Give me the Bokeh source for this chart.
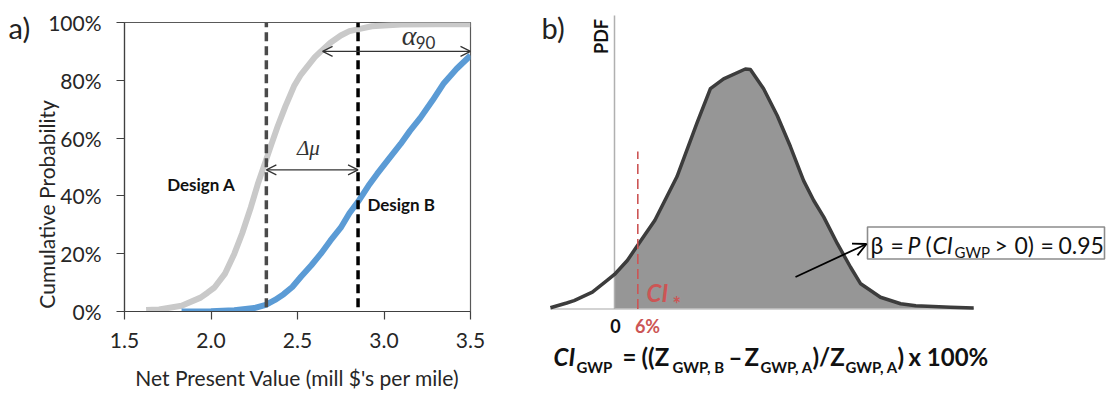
import numpy as np
from bokeh.plotting import figure
from bokeh.models import Range1d, NumeralTickFormatter, FixedTicker, Arrow, OpenHead, Label
from bokeh.layouts import row, column
from bokeh.embed import file_html
from bokeh.resources import INLINE

# ---------------- data: panel a (cumulative probability of NPV) ----------------
npv_design_a = [1.625, 1.70, 1.83, 1.94, 1.98, 2.02, 2.08, 2.135, 2.18, 2.23, 2.27, 2.31,
                2.35, 2.385, 2.43, 2.48, 2.52, 2.56, 2.60, 2.635, 2.69, 2.75, 2.80, 2.86,
                2.93, 3.0, 3.1, 3.3, 3.5]
cdf_design_a = [0.005, 0.007, 0.02, 0.048, 0.065, 0.083, 0.13, 0.20, 0.27, 0.36, 0.44, 0.51,
                0.58, 0.64, 0.71, 0.78, 0.82, 0.85, 0.88, 0.90, 0.93, 0.955, 0.97, 0.978,
                0.987, 0.99, 0.993, 0.994, 0.994]
npv_design_b = [1.83, 2.0, 2.135, 2.25, 2.317, 2.37, 2.42, 2.47, 2.52, 2.58, 2.635, 2.69,
                2.75, 2.80, 2.856, 2.91, 2.96, 3.03, 3.096, 3.15, 3.21, 3.28, 3.346, 3.42, 3.5]
cdf_design_b = [0.0, 0.001, 0.004, 0.012, 0.023, 0.04, 0.06, 0.085, 0.12, 0.16, 0.20, 0.245,
                0.29, 0.34, 0.385, 0.435, 0.476, 0.53, 0.58, 0.625, 0.67, 0.73, 0.79, 0.84,
                0.886]
mean_npv = [2.32, 2.85]                 # dashed lines (Design A, Design B)
x_ticks = [1.5, 2.0, 2.5, 3.0, 3.5]
y_ticks = [0.0, 0.2, 0.4, 0.6, 0.8, 1.0]
delta_mu_level = 0.49
alpha90_level = 0.90
alpha90_span = [2.645, 3.5]

# ---------------- data: panel b (PDF of CI_GWP) ----------------
ci_gwp = [-16.5, -12.3, -10.4, -5.7, -1.9, 0.0, 3.3, 5.7, 10.4, 16.1, 21.3, 24.7, 28.1,
          33.7, 35.0, 38.4, 41.9, 45.3, 48.7, 51.3, 53.9, 57.4, 60.8, 63.4, 68.5, 73.7,
          77.6, 86.5, 92.5]
pdf_ci = [0.005, 0.025, 0.035, 0.07, 0.119, 0.144, 0.202, 0.259, 0.37, 0.552, 0.778,
          0.918, 0.959, 1.0, 0.998, 0.918, 0.806, 0.677, 0.535, 0.452, 0.383, 0.272,
          0.174, 0.105, 0.049, 0.022, 0.014, 0.0075, 0.004]
ci_star = 6.0
ci_star_height = 0.656

SANS = "Lato"
SERIF = "Liberation Serif"
W, H = 1107, 393
W0 = 31          # strip holding the "a)" tag
WA = 530         # right edge of panel a


def make_label(p, x, y, text, size, font=SANS, style="normal", color="#111111",
               align="left", baseline="alphabetic", angle=0):
    p.add_layout(Label(x=x, y=y, text=text, text_font=font, text_font_size=f"{size}px",
                       text_font_style=style, text_color=color, text_align=align,
                       text_baseline=baseline, angle=angle))


def shift(py, size, baseline):
    # small correction so that the alphabetic baseline lands where measured
    return py - 0.36 * size if baseline == "alphabetic" else py


# ================= tag strip =================
p0 = figure(width=W0, height=H, x_range=Range1d(0, W0), y_range=Range1d(H, 0),
            output_backend="svg", toolbar_location=None,
            x_axis_location=None, y_axis_location=None, min_border=0)
p0.grid.visible = False
p0.outline_line_color = None
make_label(p0, 8, shift(37, 29, "alphabetic"), "a)", 29, color="#222222")

# ================= panel a =================
pa = figure(width=WA - W0, height=H, x_range=Range1d(1.5, 3.5), y_range=Range1d(0, 1),
            output_backend="svg", toolbar_location=None,
            min_border_left=123 - W0, min_border_right=60, min_border_top=22,
            min_border_bottom=82)
pa.xgrid.visible = False
pa.ygrid.visible = False
pa.outline_line_color = "#595959"
pa.outline_line_width = 1.2

pa.xaxis.ticker = FixedTicker(ticks=x_ticks)
pa.xaxis.formatter = NumeralTickFormatter(format="0.0")
pa.yaxis.ticker = FixedTicker(ticks=y_ticks)
pa.yaxis.formatter = NumeralTickFormatter(format="0%")
for ax in (pa.xaxis[0], pa.yaxis[0]):
    ax.major_tick_in = 0
    ax.major_tick_out = 8
    ax.minor_tick_in = 0
    ax.minor_tick_out = 0
    ax.axis_line_color = "#404040"
    ax.axis_line_width = 1.2
    ax.major_tick_line_color = "#404040"
    ax.major_tick_line_width = 1.2
    ax.major_label_text_font = SANS
    ax.major_label_text_font_size = "21px"
    ax.major_label_text_color = "#262626"
    ax.axis_label_text_font = SANS
    ax.axis_label_text_font_size = "21px"
    ax.axis_label_text_font_style = "normal"
    ax.axis_label_text_color = "#262626"
pa.xaxis.axis_label = "Net Present Value (mill $'s per mile)"
# trailing no-break spaces move the centred label down, as in the original
pa.yaxis.axis_label = "Cumulative Probability" + "\u00a0" * 14
pa.xaxis.major_label_standoff = 13
pa.xaxis.axis_label_standoff = 14
pa.yaxis.major_label_standoff = 15
pa.yaxis.axis_label_standoff = -14

pa.line(npv_design_a, cdf_design_a, line_color="#c9c9c9", line_width=6, line_join="round")
pa.line(npv_design_b, cdf_design_b, line_color="#5b9bd5", line_width=6, line_join="round")
pa.segment(x0=mean_npv, y0=[0.015, 0.015], x1=mean_npv, y1=[1.0, 1.0],
           line_color=["#4a4a4a", "#000000"], line_width=3.5, line_dash="9 5")

head = dict(size=10, line_width=1.2, line_color="#333333")
pa.add_layout(Arrow(start=OpenHead(**head), end=OpenHead(**head),
                    x_start=mean_npv[0], y_start=delta_mu_level,
                    x_end=mean_npv[1], y_end=delta_mu_level,
                    line_width=1.2, line_color="#333333"))
pa.add_layout(Arrow(start=OpenHead(**head), end=OpenHead(**head),
                    x_start=alpha90_span[0], y_start=alpha90_level,
                    x_end=alpha90_span[1], y_end=alpha90_level,
                    line_width=1.2, line_color="#333333"))


def labA(px, py, text, size, baseline="alphabetic", **kw):
    y = shift(py, size, baseline)
    make_label(pa, 1.5 + (px - 123.0) / 173.5, (311.0 - y) / 289.0, text, size,
               baseline=baseline, **kw)


labA(200, 183.5, "Design A", 17, baseline="middle", style="bold", align="center")
labA(400.5, 203.5, "Design B", 17, baseline="middle", style="bold", align="center")
labA(307.5, 155, "\u0394\u03bc", 21, font=SERIF, style="italic", color="#333333",
     align="center")
labA(401, 45, "\u03b1", 28, font=SERIF, style="italic", color="#333333")
labA(415, 48, "90", 17, color="#333333")

# ================= panel b =================


def bx(px):
    return (px - 614.0) / 3.883


def by(py):
    return (308.5 - py) / 240.0


pb = figure(width=W - WA, height=H, x_range=Range1d(bx(WA), bx(W)),
            y_range=Range1d(by(H), by(0)), output_backend="svg", toolbar_location=None,
            x_axis_location=None, y_axis_location=None, min_border=0)
pb.xgrid.visible = False
pb.ygrid.visible = False
pb.outline_line_color = None

ci = np.array(ci_gwp)
pdf = np.array(pdf_ci)
pos = ci >= 0
pb.varea(x=ci[pos], y1=np.zeros(pos.sum()), y2=pdf[pos], fill_color="#969696")
pb.segment(x0=[ci.min()], y0=[0], x1=[ci.max()], y1=[0], line_color="#c4c4c4", line_width=1.5)
pb.segment(x0=[0], y0=[0], x1=[0], y1=[by(15)], line_color="#b0b0b0", line_width=1.5)
pb.line(ci_gwp, pdf_ci, line_color="#3c3c3c", line_width=3.5, line_join="round")
pb.segment(x0=[ci_star], y0=[0], x1=[ci_star], y1=[ci_star_height],
           line_color="#cc5555", line_width=1.6, line_dash="10 5")

# beta box + arrow
pb.quad(left=[bx(867)], right=[bx(1104)], top=[by(226.5)], bottom=[by(258.5)],
        fill_color="white", line_color="#8c8c8c", line_width=1.6)
pb.add_layout(Arrow(end=OpenHead(size=13, line_width=1.8, line_color="black"),
                    x_start=bx(795), y_start=by(276.5), x_end=bx(866), y_end=by(243.5),
                    line_width=1.8, line_color="black"))


def labB(px, py, text, size, baseline="alphabetic", **kw):
    make_label(pb, bx(px), by(shift(py, size, baseline)), text, size, baseline=baseline, **kw)


labB(541, 37, "b)", 29, color="#222222")
labB(600, 36, "PDF", 18, baseline="middle", style="bold", align="center", angle=np.pi / 2)
labB(646, 301, "CI", 24, style="bold italic", color="#cc5555")
labB(672, 311, "*", 20, style="bold", color="#cc5555")
labB(615, 331.5, "0", 18, style="bold", align="center")
labB(647, 331.5, "6%", 18, style="bold", color="#cc5555", align="center")

# beta text
box_parts = [("\u03b2", 870, 253, 23, "normal"), ("=", 890, 253, 23, "normal"),
             ("P", 907, 253, 23, "italic"), ("(", 925, 253, 23, "normal"),
             ("CI", 932, 253, 23, "italic"), ("GWP", 954, 257, 15, "normal"),
             (">", 994, 253, 23, "normal"), ("0)", 1014, 253, 23, "normal"),
             ("=", 1040, 253, 23, "normal"), ("0.95", 1058, 253, 23, "normal")]
for t, px, py, sz, st in box_parts:
    labB(px, py, t, sz, style=st)

# formula under the axis
formula_parts = [("CI", 553, 365, 24, "bold italic"), ("GWP", 576, 371.5, 15, "bold"),
                 ("=", 622, 365, 24, "bold"), ("((Z", 641, 365, 24, "bold"),
                 ("GWP, B", 672, 371.5, 15, "bold"), ("\u2013", 728, 365, 24, "bold"),
                 ("Z", 744, 365, 24, "bold"), ("GWP, A", 760, 371.5, 15, "bold"),
                 (")/Z", 812, 365, 24, "bold"), ("GWP, A", 845, 371.5, 15, "bold"),
                 (")", 897, 365, 24, "bold"), ("x 100%", 908, 365, 24, "bold")]
for t, px, py, sz, st in formula_parts:
    labB(px, py, t, sz, style=st)

layout = row(column(p0), column(pa), column(pb), spacing=0)
open("out.html", "w").write(file_html(layout, INLINE))
